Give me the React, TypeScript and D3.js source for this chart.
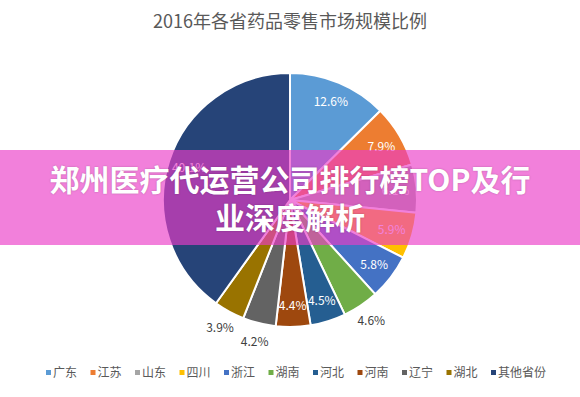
import React, { useRef, useEffect } from "react";
import * as d3 from "d3";

const provinces = ["广东", "江苏", "山东", "四川", "浙江", "湖南", "河北", "河南", "辽宁", "湖北", "其他省份"];
const shares = [12.6, 7.9, 6.1, 5.9, 5.8, 4.6, 4.5, 4.4, 4.2, 3.9, 40.1];
const colors = ["#5B9BD5", "#ED7D31", "#A5A5A5", "#FFC000", "#4472C4", "#70AD47", "#255E91", "#9E480E", "#636363", "#997300", "#264478"];
const outsideLabels = ["湖南", "辽宁", "湖北"];

const title = "2016年各省药品零售市场规模比例";
const bannerLines = ["郑州医疗代运营公司排行榜TOP及行", "业深度解析"];

const W = 580;
const H = 397;
const FONT = "'Noto Sans CJK SC', 'Noto Sans', sans-serif";

const App = () => {
  const svgRef = useRef<SVGSVGElement>(null);

  useEffect(() => {
    const svg = d3.select(svgRef.current);
    svg.selectAll("*").remove();

    const cx = 290;
    const cy = 200;
    const R = 127;

    svg.append("rect").attr("width", W).attr("height", H).attr("fill", "#fff");

    svg
      .append("text")
      .attr("x", 290)
      .attr("y", 28)
      .attr("text-anchor", "middle")
      .attr("font-family", FONT)
      .attr("font-size", 18)
      .attr("fill", "#595959")
      .text(title);

    const pie = d3.pie<number>().sort(null).value((d) => d);
    const arcs = pie(shares);
    const arc = d3.arc<d3.PieArcDatum<number>>().innerRadius(0).outerRadius(R);
    const inLabel = d3.arc<d3.PieArcDatum<number>>().innerRadius(106).outerRadius(106);
    const outLabel = d3.arc<d3.PieArcDatum<number>>().innerRadius(146).outerRadius(146);

    const g = svg.append("g").attr("transform", `translate(${cx},${cy})`);

    g.selectAll("path")
      .data(arcs)
      .join("path")
      .attr("d", arc)
      .attr("fill", (_, i) => colors[i])
      .attr("stroke", "#fff")
      .attr("stroke-width", 2)
      .attr("stroke-linejoin", "round");

    g.selectAll("text.lbl")
      .data(arcs)
      .join("text")
      .attr("class", "lbl")
      .attr("transform", (d, i) => {
        const out = outsideLabels.includes(provinces[i]);
        const [x, y] = (out ? outLabel : inLabel).centroid(d);
        return `translate(${x},${y})`;
      })
      .attr("text-anchor", "middle")
      .attr("dy", "0.35em")
      .attr("font-family", FONT)
      .attr("font-size", 12)
      .attr("fill", (_, i) => (outsideLabels.includes(provinces[i]) ? "#404040" : "#fff"))
      .text((d) => `${d.data}%`);

    // legend
    const legend = svg.append("g");
    const charW = 12;
    const widths = provinces.map((p) => 7 + p.length * charW + 13.5);
    const total = d3.sum(widths) - 13.5;
    let x = 296 - total / 2;
    provinces.forEach((p, i) => {
      legend
        .append("rect")
        .attr("x", x)
        .attr("y", 370)
        .attr("width", 5)
        .attr("height", 5)
        .attr("fill", colors[i]);
      legend
        .append("text")
        .attr("x", x + 7)
        .attr("y", 377)
        .attr("font-family", FONT)
        .attr("font-size", 12)
        .attr("fill", "#595959")
        .text(p);
      x += widths[i];
    });

    // overlay banner
    svg
      .append("rect")
      .attr("x", 0)
      .attr("y", 150)
      .attr("width", W)
      .attr("height", 95)
      .attr("fill", "rgba(235, 60, 200, 0.65)");

    bannerLines.forEach((t, i) => {
      svg
        .append("text")
        .attr("x", 290)
        .attr("y", 191 + i * 38)
        .attr("text-anchor", "middle")
        .attr("font-family", FONT)
        .attr("font-size", 30)
        .attr("font-weight", "bold")
        .attr("fill", "#fff")
        .style("text-shadow", "0 0 2px rgba(0,0,0,0.25)")
        .text(t);
    });
  }, []);

  return <svg ref={svgRef} width={W} height={H} style={{ position: "absolute", left: 0, top: 0 }} />;
};

export default App;
